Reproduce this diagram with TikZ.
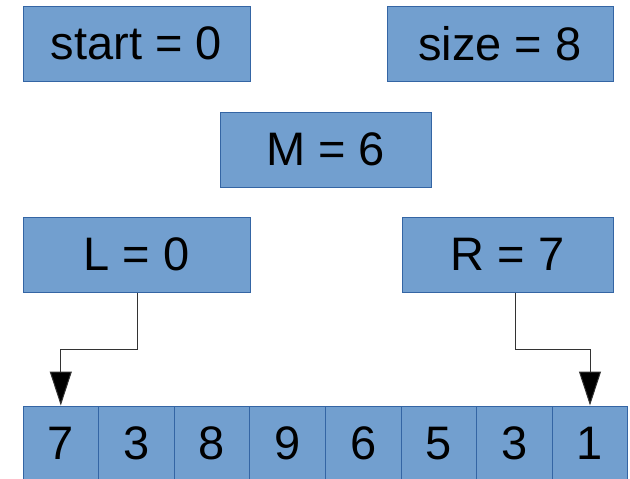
\documentclass[tikz,border=0pt]{standalone}
\usepackage{fontspec}
\setmainfont{Liberation Sans}
\usetikzlibrary{arrows.meta}
\definecolor{boxfill}{HTML}{729FCF}
\definecolor{boxline}{HTML}{3465A4}
\tikzset{
  valbox/.style={draw=boxline, fill=boxfill, line width=1pt, inner sep=0pt,
    font=\fontsize{47}{50}\selectfont, text=black},
  ptr/.style={draw=black!80, line width=1pt,
    -{Triangle[length=34pt,width=22pt,fill=black]}},
}
\begin{document}
\begin{tikzpicture}[x=1pt,y=-1pt]
\useasboundingbox (0,0) rectangle (630,479);
\begin{scope}
\clip (0,0) rectangle (630,479);
% variable boxes
\node[valbox, minimum width=227pt, minimum height=75pt] (start) at (136.5,43.5) {start = 0};
\node[valbox, minimum width=226pt, minimum height=75pt] (size) at (500,43.5) {size = 8};
\node[valbox, minimum width=211pt, minimum height=75pt] (M) at (325.5,149.5) {M = 6};
\node[valbox, minimum width=227pt, minimum height=75pt] (L) at (136.5,254.5) {L = 0};
\node[valbox, minimum width=211pt, minimum height=75pt] (R) at (507.5,254.5) {R = 7};
% array cells
\foreach \v [count=\i from 0] in {7,3,8,9,6,5,3,1} {
  \node[valbox, minimum width=75.6pt, minimum height=75pt]
    (c\i) at ({23+75.6*\i+37.8},443.5) {\v};
}
% pointers
\coordinate (lbend) at (137,349);
\coordinate (rbend) at (515,349);
\draw[ptr] (L.south -| lbend) -- (lbend) -| (c0.north);
\draw[ptr] (R.south -| rbend) -- (rbend) -| (c7.north);
\end{scope}
\end{tikzpicture}
\end{document}
